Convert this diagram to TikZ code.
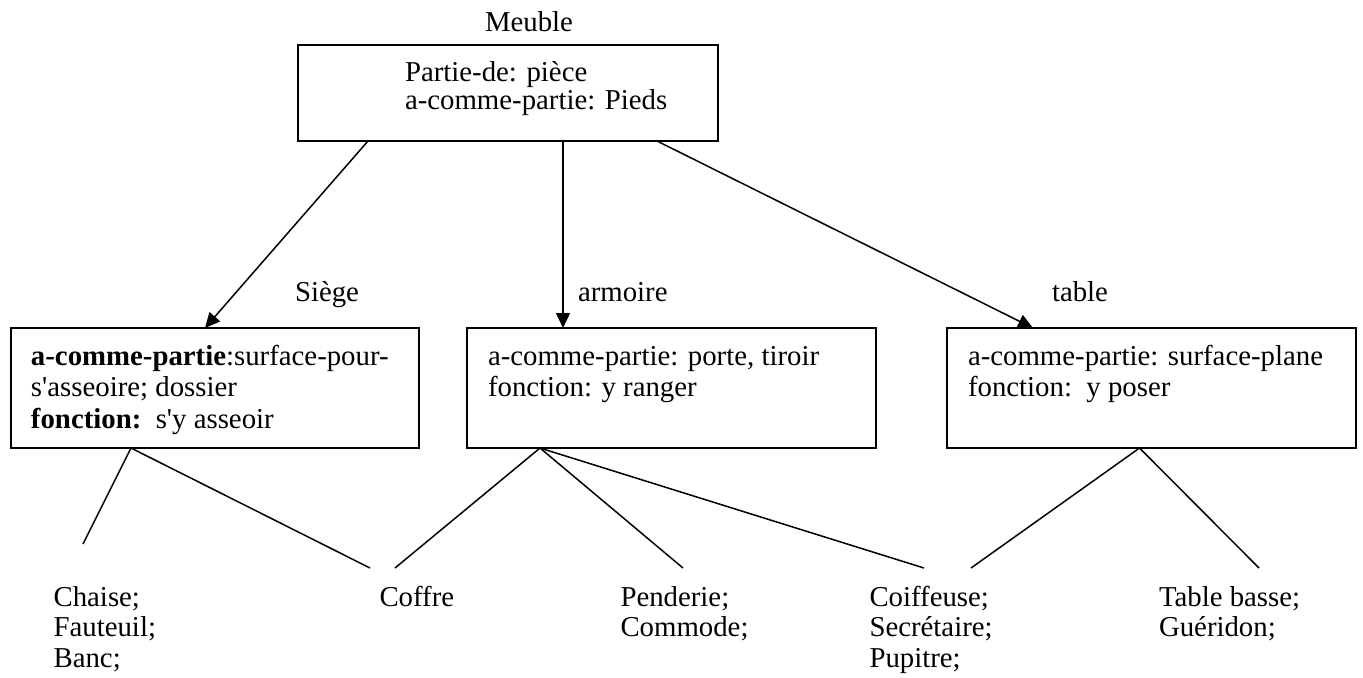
\documentclass[tikz,border=0pt]{standalone}
\usepackage{fontspec}
\setmainfont{Liberation Serif}[Ligatures=TeXOff]
\usetikzlibrary{arrows.meta,calc}
\begin{document}
\begin{tikzpicture}[x=0.5pt,y=-0.5pt,
  box/.style={draw,line width=1pt,rectangle,inner sep=0pt,outer sep=0pt,anchor=north west},
  txt/.style={inner sep=0pt,outer sep=0pt,anchor=base west,align=left,
    font=\fontsize{14.4}{15.85}\selectfont},
  toptxt/.style={txt,font=\fontsize{14.4}{13}\selectfont},
  leaf/.style={txt,font=\fontsize{14.4}{15.25}\selectfont},
  isa/.style={line width=0.75pt,-{Triangle[length=7.5pt,width=7pt]}},
  link/.style={line width=0.75pt}]
\fill[white] (0,0) rectangle (1363,677);
\useasboundingbox (0,0) rectangle (1363,677);

% frames
\node[box,minimum width=210pt,minimum height=48pt] (meuble) at (298,45) {};
\node[box,minimum width=204pt,minimum height=60pt] (siege) at (11,328) {};
\node[box,minimum width=204.5pt,minimum height=60pt] (armoire) at (467,328) {};
\node[box,minimum width=204.5pt,minimum height=60pt] (table) at (947,328) {};

% frame names
\node[txt] (lmeuble) at (485,31.7) {Meuble};
\node[txt] (lsiege) at (295,301.7) {Siège};
\node[txt] (larmoire) at (578,301.7) {armoire};
\node[txt] (ltable) at (1052,301.7) {table};

% slots (the base anchor sits on the last line)
\node[toptxt] (tmeuble) at (405,109.3) {Partie-de: pièce\\a-comme-partie: Pieds};
\node[txt] (tsiege) at (31,428.4) {\textbf{a-comme-partie}:surface-pour-\\s'asseoire; dossier\\\textbf{fonction:}\ \ s'y asseoir};
\node[txt] (tarmoire) at (488,396.7) {a-comme-partie: porte, tiroir\\fonction: y ranger};
\node[txt] (ttable) at (968,396.7) {a-comme-partie: surface-plane\\fonction:\ \ y poser};

% instances
\node[leaf] (chaise) at (53.6,667) {Chaise;\\Fauteuil;\\Banc;};
\node[leaf] (coffre) at (379.5,606) {Coffre};
\node[leaf] (penderie) at (620.5,636.5) {Penderie;\\Commode;};
\node[leaf] (coiffeuse) at (869.5,667) {Coiffeuse;\\Secrétaire;\\Pupitre;};
\node[leaf] (basse) at (1159,636.5) {Table basse;\\Guéridon;};

% attachment points
\coordinate (m1) at ($(meuble.south west)+(70,0)$);
\coordinate (m2) at ($(meuble.south west)+(265,0)$);
\coordinate (m3) at ($(meuble.south west)+(359,0)$);
\coordinate (s0) at ($(siege.north west)+(194,0)$);
\coordinate (a0) at ($(armoire.north west)+(96,0)$);
\coordinate (t0) at ($(table.north west)+(86,0)$);
\coordinate (sb) at ($(siege.south west)+(120,0)$);
\coordinate (ab) at ($(armoire.south west)+(73,0)$);
\coordinate (tb) at ($(table.south west)+(192.5,0)$);
\coordinate (eChaise) at (83,544);
\coordinate (eCoffreS) at (370,568);
\coordinate (eCoffreA) at (395,568);
\coordinate (ePenderie) at (683,568);
\coordinate (eCoiffA) at (924,568);
\coordinate (eCoiffT) at (971,568);
\coordinate (eBasse) at (1259,568);

% specialisation arrows
\draw[isa] (m1) -- (s0);
\draw[isa] (m2) -- (a0);
\draw[isa] (m3) -- (t0);

% instance links
\draw[link] (sb) -- (eChaise);
\draw[link] (sb) -- (eCoffreS);
\draw[link] (ab) -- (eCoffreA);
\draw[link] (ab) -- (ePenderie);
\draw[link] (ab) -- (eCoiffA);
\draw[link] (tb) -- (eCoiffT);
\draw[link] (tb) -- (eBasse);
\end{tikzpicture}
\end{document}
